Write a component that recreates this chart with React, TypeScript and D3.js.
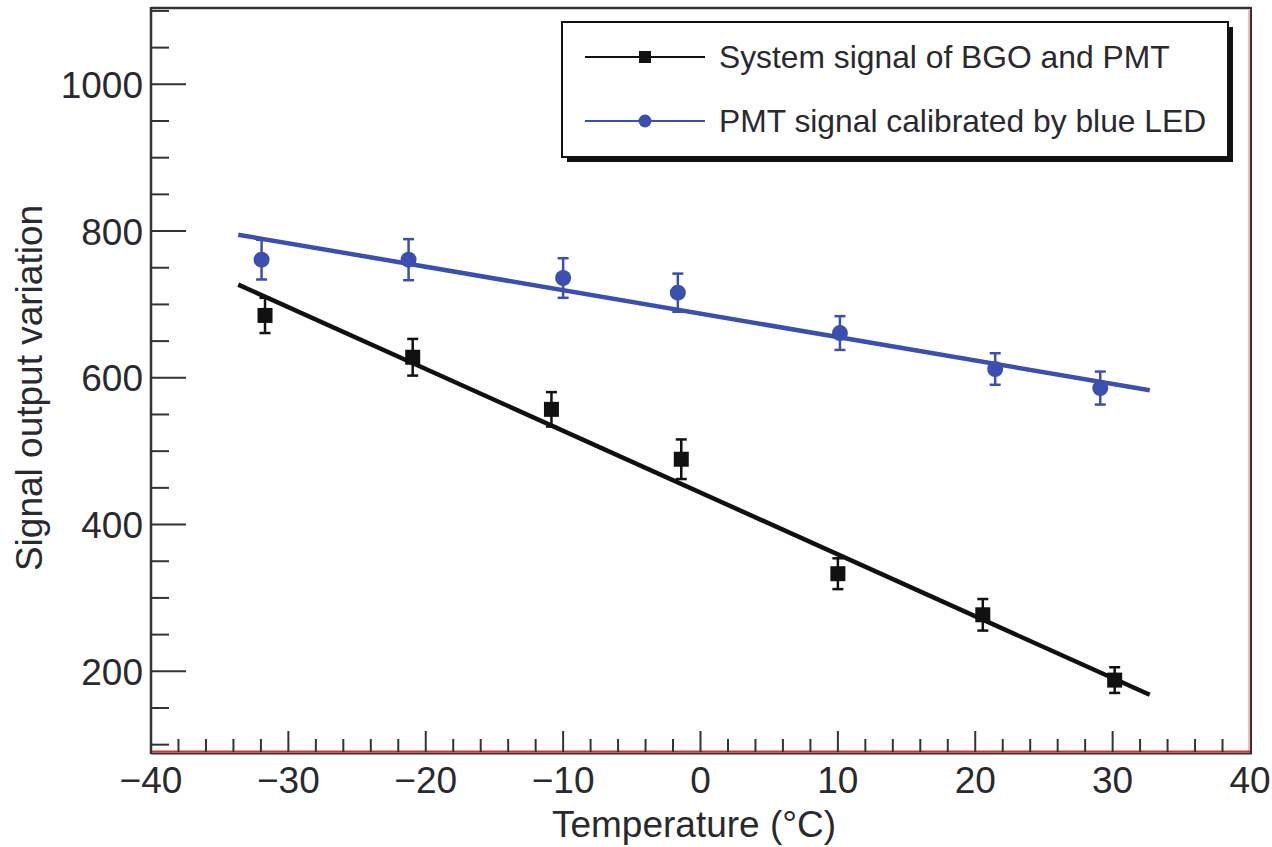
import React from "react";
import * as d3 from "d3";

// ---- Data ----
const bgoTemp = [-31.7, -20.95, -10.85, -1.4, 10.0, 20.55, 30.15];
const bgoSignal = [685, 628, 557, 489, 333, 277, 188];
const bgoErr = [24, 25, 23.5, 27, 21, 21.5, 17.5];

const ledTemp = [-31.95, -21.25, -10.0, -1.65, 10.15, 21.45, 29.1];
const ledSignal = [761, 761, 736, 716, 661, 612, 586];
const ledErr = [27, 28, 27, 26, 23, 21.5, 22.5];

// linear fits: [startTemp, endTemp], [startValue, endValue]
const fitTemps = [-33.65, 32.7];
const bgoFit = [727, 168];
const ledFit = [795, 583];

const xMajorTicks = [-40, -30, -20, -10, 0, 10, 20, 30, 40];
const yMajorTicks = [200, 400, 600, 800, 1000];

const legendLabels = ["System signal of BGO and PMT", "PMT signal calibrated by blue LED"];
const xTitle = "Temperature (°C)";
const yTitle = "Signal output variation";

const FONT = "'Liberation Sans', Arial, Helvetica, sans-serif";
const TEXT = "#2a2a2e";
const AXIS = "#333";
const BLUE = "#3a4fae";
const BLACK = "#111";

export default function App() {
  const left = 151, right = 1250, top = 8, bottom = 752;
  const x = d3.scaleLinear().domain([-40, 40]).range([left, right]);
  const y = d3.scaleLinear().domain([90, 1104]).range([bottom, top]);

  const xMinor = d3.range(-38, 40, 2).filter((v) => v % 10 !== 0);
  const yMinor = d3.range(100, 1101, 50).filter((v) => v % 200 !== 0);

  const line = d3
    .line<[number, number]>()
    .x((d) => x(d[0]))
    .y((d) => y(d[1]));

  const fmt = (v: number) => (v < 0 ? "\u2212" + Math.abs(v) : String(v));

  const legX = 562, legY = 22, legW = 666, legH = 135;

  return (
    <svg
      width={1272}
      height={847}
      style={{ position: "absolute", left: 0, top: 0, display: "block", background: "#fff" }}
      fontFamily={FONT}
    >
      {/* fit lines */}
      <path
        d={line(fitTemps.map((t, i) => [t, bgoFit[i]]) as [number, number][]) || ""}
        stroke={BLACK}
        strokeWidth={4.5}
        fill="none"
      />
      <path
        d={line(fitTemps.map((t, i) => [t, ledFit[i]]) as [number, number][]) || ""}
        stroke={BLUE}
        strokeWidth={4.5}
        fill="none"
      />

      {/* BGO error bars + squares */}
      {bgoTemp.map((t, i) => {
        const cx = x(t), cy = y(bgoSignal[i]);
        const y1 = y(bgoSignal[i] + bgoErr[i]), y2 = y(bgoSignal[i] - bgoErr[i]);
        return (
          <g key={"b" + i} stroke={BLACK} strokeWidth={2.5}>
            <line x1={cx} x2={cx} y1={y1} y2={y2} />
            <line x1={cx - 5.5} x2={cx + 5.5} y1={y1} y2={y1} />
            <line x1={cx - 5.5} x2={cx + 5.5} y1={y2} y2={y2} />
            <rect x={cx - 7.5} y={cy - 7.5} width={15} height={15} fill={BLACK} stroke="none" />
          </g>
        );
      })}

      {/* LED error bars + circles */}
      {ledTemp.map((t, i) => {
        const cx = x(t), cy = y(ledSignal[i]);
        const y1 = y(ledSignal[i] + ledErr[i]), y2 = y(ledSignal[i] - ledErr[i]);
        return (
          <g key={"l" + i} stroke={BLUE} strokeWidth={2.5}>
            <line x1={cx} x2={cx} y1={y1} y2={y2} />
            <line x1={cx - 5.5} x2={cx + 5.5} y1={y1} y2={y1} />
            <line x1={cx - 5.5} x2={cx + 5.5} y1={y2} y2={y2} />
            <circle cx={cx} cy={cy} r={8} fill={BLUE} stroke="none" />
          </g>
        );
      })}

      {/* frame */}
      <line x1={left} x2={right + 1} y1={top} y2={top} stroke={AXIS} strokeWidth={2.5} />
      <line x1={left} x2={left} y1={top - 1} y2={bottom + 2} stroke={AXIS} strokeWidth={2.5} />
      <line x1={right + 1} x2={right + 1} y1={top - 1} y2={bottom + 2} stroke={AXIS} strokeWidth={2} />
      <line x1={right - 1} x2={right - 1} y1={top + 2} y2={bottom} stroke="#e88" strokeWidth={1.2} />
      <line x1={left} x2={right + 2} y1={bottom + 1.5} y2={bottom + 1.5} stroke={AXIS} strokeWidth={2} />
      <line x1={left + 1} x2={right} y1={bottom - 0.5} y2={bottom - 0.5} stroke="#e0302a" strokeWidth={2.2} />

      {/* y ticks */}
      {yMajorTicks.map((v) => (
        <g key={"ym" + v}>
          <line x1={left} x2={left + 35} y1={y(v)} y2={y(v)} stroke={AXIS} strokeWidth={2} />
          <text x={143} y={y(v) + 13.5} textAnchor="end" fontSize={37} fill={TEXT}>
            {fmt(v)}
          </text>
        </g>
      ))}
      {yMinor.map((v) => (
        <line key={"yn" + v} x1={left} x2={left + 18} y1={y(v)} y2={y(v)} stroke={AXIS} strokeWidth={2} />
      ))}

      {/* x ticks */}
      {xMajorTicks.map((v) => (
        <g key={"xm" + v}>
          {v > -40 && v < 40 && (
            <line x1={x(v)} x2={x(v)} y1={bottom} y2={bottom - 21} stroke={AXIS} strokeWidth={2} />
          )}
          <text x={x(v)} y={793} textAnchor="middle" fontSize={37} fill={TEXT}>
            {fmt(v)}
          </text>
        </g>
      ))}
      {xMinor.map((v) => (
        <line key={"xn" + v} x1={x(v)} x2={x(v)} y1={bottom} y2={bottom - 13} stroke={AXIS} strokeWidth={2} />
      ))}

      {/* axis titles */}
      <text x={694} y={837} textAnchor="middle" fontSize={37} fill={TEXT}>
        {xTitle}
      </text>
      <text
        transform={`translate(42, 388) rotate(-90)`}
        textAnchor="middle"
        fontSize={37}
        fill={TEXT}
      >
        {yTitle}
      </text>

      {/* legend */}
      <rect x={legX + 5} y={legY + 5} width={legW} height={legH} fill={BLACK} />
      <rect x={legX} y={legY} width={legW} height={legH} fill="#fff" stroke={BLACK} strokeWidth={2} />
      <g>
        <line x1={585} x2={705} y1={57} y2={57} stroke={BLACK} strokeWidth={2} />
        <rect x={639} y={51} width={12} height={12} fill={BLACK} />
        <text x={719} y={68} fontSize={31.8} fill={TEXT}>
          {legendLabels[0]}
        </text>
        <line x1={585} x2={705} y1={121} y2={121} stroke={BLUE} strokeWidth={2} />
        <circle cx={645} cy={121} r={6.5} fill={BLUE} />
        <text x={719} y={132} fontSize={31.8} fill={TEXT}>
          {legendLabels[1]}
        </text>
      </g>
    </svg>
  );
}
